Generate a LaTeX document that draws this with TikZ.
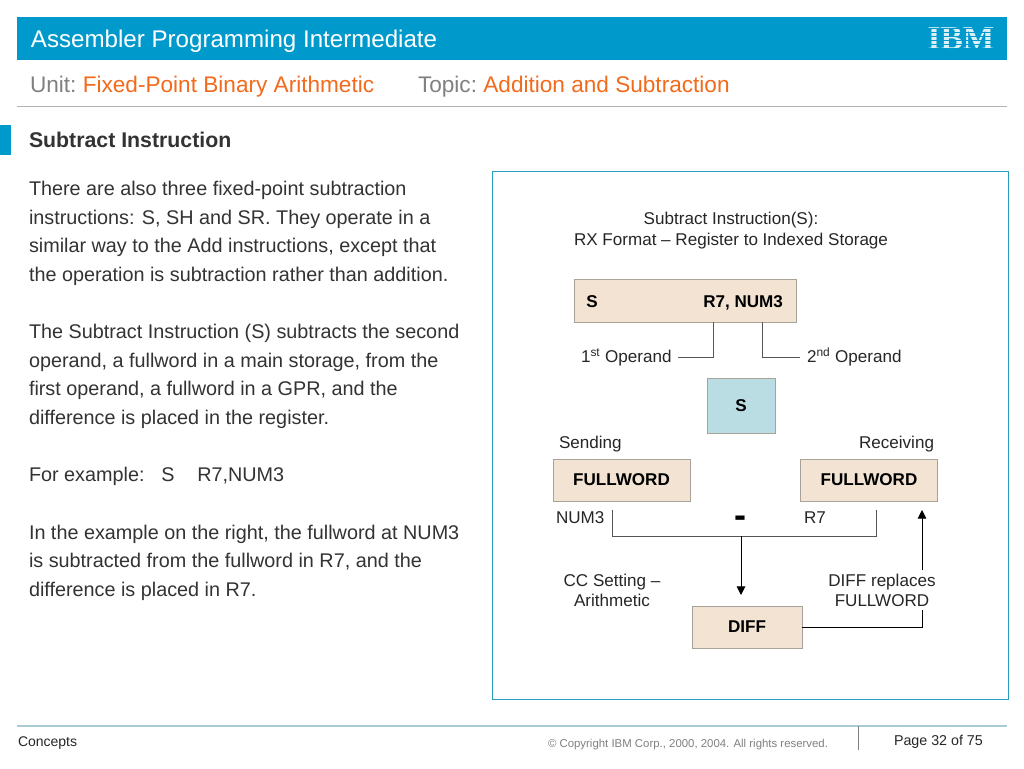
\documentclass[tikz,border=0pt]{standalone}
\usepackage{fontspec}
\setmainfont{Liberation Sans}
\usetikzlibrary{arrows.meta}
\definecolor{hdr}{HTML}{0099CC}
\definecolor{beige}{HTML}{F3E3D3}
\definecolor{boxline}{HTML}{A8A298}
\definecolor{sblue}{HTML}{B9DDE2}
\definecolor{grayt}{HTML}{808080}
\definecolor{orng}{HTML}{F26A1B}
\definecolor{bodyt}{HTML}{333333}
\definecolor{panel}{HTML}{2A9DBF}
\definecolor{conn}{HTML}{555555}
\definecolor{footl}{HTML}{A9CBD6}
\tikzset{
  x=0.75pt,y=-0.75pt,
  txt/.style={inner sep=0pt,outer sep=0pt,font=\fontsize{14.85}{15}\selectfont,text=bodyt,anchor=base west},
  lab/.style={inner sep=0pt,outer sep=0pt,font=\fontsize{12.8}{15.4}\selectfont,text=black!85,align=center},
  fbox/.style={draw=boxline,line width=0.7pt,fill=beige,inner sep=0pt,font=\fontsize{12.8}{12.8}\selectfont\bfseries,text=black},
  wire/.style={draw=conn,line width=0.7pt},
  bwire/.style={draw=black,line width=0.7pt},
  arr/.style={bwire,-{Triangle[length=6.5pt,width=6.5pt]}},
}
\begin{document}
\begin{tikzpicture}
\useasboundingbox (0,0) rectangle (1024,768);
\fill[white] (0,0) rectangle (1024,768);
% header
\fill[hdr] (17,17) rectangle (1007,60);
\node[txt,text=white,font=\fontsize{18.09}{18}\selectfont] (title) at (31,47) {Assembler Programming Intermediate};
\node[text=white!85!hdr,inner sep=0pt,anchor=center] (ibm) at (961,39) {\fontspec{Liberation Serif}\bfseries\fontsize{25}{25}\selectfont IBM};
\foreach \yy in {27.5,31.5,35.5,39.5,43.5,47.5}{\fill[hdr] (925,\yy) rectangle (998,\yy+1.4);}
\node[txt,font=\fontsize{16.95}{16.95}\selectfont,text=grayt] (unit) at (30,92) {Unit:\hspace{0.28em}\textcolor{orng}{Fixed-Point Binary Arithmetic}};
\node[txt,font=\fontsize{16.95}{16.95}\selectfont,text=grayt] (topic) at (418,92) {Topic:\hspace{0.28em}\textcolor{orng}{Addition and Subtraction}};
\draw[black!30,line width=0.8pt] (17,106.5) -- (1007,106.5);
\fill[hdr] (0,125) rectangle (11,155);
\node[txt,font=\fontsize{15.97}{15.97}\selectfont\bfseries] (head) at (29,147) {Subtract Instruction};
% body
\node[txt] (l1) at (29,195.5) {There are also three fixed-point subtraction};
\node[txt] (l2) at (29,224) {instructions: S, SH and SR. They operate in a};
\node[txt] (l3) at (29,252.5) {similar way to the Add instructions, except that};
\node[txt] (l4) at (29,281) {the operation is subtraction rather than addition.};
\node[txt] (l5) at (29,338.5) {The Subtract Instruction (S) subtracts the second};
\node[txt] (l6) at (29,367) {operand, a fullword in a main storage, from the};
\node[txt] (l7) at (29,395.5) {first operand, a fullword in a GPR, and the};
\node[txt] (l8) at (29,424) {difference is placed in the register.};
\node[txt] (l9) at (29,481.5) {For example:\hspace{0.85em}S\hspace{1.15em}R7,NUM3};
\node[txt] (l10) at (29,539) {In the example on the right, the fullword at NUM3};
\node[txt] (l11) at (29,567.5) {is subtracted from the fullword in R7, and the};
\node[txt] (l12) at (29,596) {difference is placed in R7.};
% panel
\draw[panel,line width=0.65pt] (492,171) rectangle (1008,699);
\node[lab] (cap) at (731,230.5) {Subtract Instruction(S):\\RX Format -- Register to Indexed Storage};
\node[fbox,minimum width=166.5pt,minimum height=32.25pt] (instr) at (685,300.5) {};
\node[inner sep=0pt,font=\fontsize{12.8}{12.8}\selectfont\bfseries,anchor=base west] (is) at (586,307) {S};
\node[inner sep=0pt,font=\fontsize{12.8}{12.8}\selectfont\bfseries,anchor=base west] (iops) at (703,307) {R7, NUM3};
\node[lab,anchor=base west] (op1) at (581,362) {1\textsuperscript{st} Operand};
\node[lab,anchor=base west] (op2) at (807,362) {2\textsuperscript{nd} Operand};
\coordinate (o1s) at (713,322); \coordinate (o1c) at (713,357); \coordinate (o1e) at (678,357);
\coordinate (o2s) at (762,322); \coordinate (o2c) at (762,357); \coordinate (o2e) at (800,357);
\draw[wire] (o1s) -- (o1c) -- (o1e);
\draw[wire] (o2s) -- (o2c) -- (o2e);
\node[fbox,fill=sblue,minimum width=51pt,minimum height=41.25pt] (sb) at (741,405.5) {S};
\node[lab,anchor=base west] (send) at (559,448) {Sending};
\node[lab,anchor=base east] (recv) at (934,448) {Receiving};
\node[fbox,minimum width=102.75pt,minimum height=31.5pt] (fl) at (621.5,480) {FULLWORD};
\node[fbox,minimum width=102.75pt,minimum height=31.5pt] (fr) at (869,480) {FULLWORD};
\node[lab,anchor=base west] (num) at (556,523) {NUM3};
\node[lab,anchor=base west] (r7) at (804,523) {R7};
\node[inner sep=0pt,font=\fontsize{27}{27}\selectfont\bfseries] (minus) at (740,522) {-};
\coordinate (bl) at (612,510); \coordinate (blc) at (612,536); \coordinate (brc) at (876,536); \coordinate (br) at (876,510);
\draw[wire] (bl) -- (blc) -- (brc) -- (br);
\coordinate (ds) at (741,536); \coordinate (de) at (741,595);
\draw[arr] (ds) -- (de);
\node[lab] (cc) at (612,590.5) {CC Setting --\\Arithmetic};
\node[lab] (rep) at (882,590.5) {DIFF replaces\\FULLWORD};
\node[fbox,minimum width=82.5pt,minimum height=31.5pt] (diff) at (747,627) {DIFF};
\coordinate (rc) at (922,627); \coordinate (re) at (922,610);
\draw[bwire] (diff.east) -- (rc) -- (re);
\coordinate (us) at (922,570); \coordinate (ue) at (922,510);
\draw[arr] (us) -- (ue);
% footer
\draw[footl,line width=1pt] (17,726) -- (1007,726);
\draw[black!50,line width=0.6pt] (858,726) -- (858,750);
\node[txt,font=\fontsize{10.5}{10.5}\selectfont,text=black!85] (con) at (18,746) {Concepts};
\node[txt,font=\fontsize{8.55}{8.55}\selectfont,text=grayt] (copy) at (548,747) {© Copyright IBM Corp., 2000, 2004. All rights reserved.};
\node[txt,font=\fontsize{10.7}{10.7}\selectfont,text=black!85] (page) at (894,745) {Page 32 of 75};
\end{tikzpicture}
\end{document}
